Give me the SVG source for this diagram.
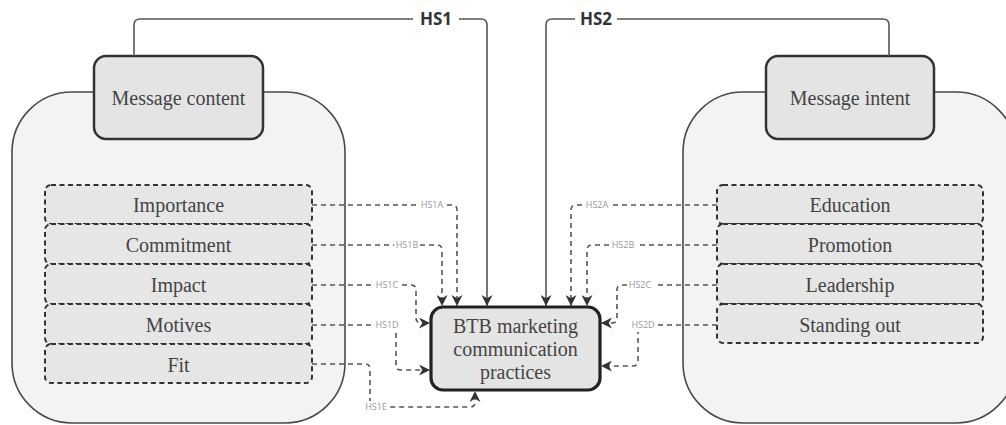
<svg xmlns="http://www.w3.org/2000/svg" width="1006" height="425" viewBox="0 0 1006 425">
<style>
.cont{fill:#f3f3f3;stroke:#4a4a4a;stroke-width:1.6}
.head{fill:#e4e4e4;stroke:#333;stroke-width:2.5}
.item{fill:#e6e6e6;stroke:#333;stroke-width:2;stroke-dasharray:5 3.5}
.main{fill:#e4e4e4;stroke:#222;stroke-width:3.2}
.t{font-family:"Liberation Serif",serif;font-size:20px;fill:#444;text-anchor:middle}
.sol{fill:none;stroke:#555;stroke-width:1.6}
.dash{fill:none;stroke:#555;stroke-width:1.6;stroke-dasharray:5 4}
.lbl{font-family:"Open Sans","Liberation Sans",sans-serif;font-size:9px;fill:#999;text-anchor:middle}
.big{font-family:"Open Sans","Liberation Sans",sans-serif;font-size:17px;font-weight:bold;fill:#333;text-anchor:middle}
.bg{fill:#fff}
</style>
<defs>
<marker id="ah" viewBox="0 0 10 10" refX="10" refY="5" markerWidth="11" markerHeight="11" markerUnits="userSpaceOnUse" orient="auto">
<path d="M0,0 L10,5 L0,10 L3,5 z" fill="#333"/>
</marker>
</defs>
<g id="message-content-group">
<rect class="cont" x="12" y="92" width="333" height="331" rx="60"/>
</g>
<g id="message-intent-group">
<rect class="cont" x="683" y="92" width="333" height="331" rx="60"/>
</g>
<g id="message-content">
<rect class="head" x="94" y="56" width="169" height="83" rx="12"/>
<text class="t" x="178.5" y="105">Message content</text>
</g>
<g id="message-intent">
<rect class="head" x="766" y="56" width="168" height="83" rx="12"/>
<text class="t" x="850" y="105">Message intent</text>
</g>
<g id="importance"><rect class="item" x="45" y="185" width="267" height="39" rx="6"/><text class="t" x="178.5" y="212">Importance</text></g>
<g id="commitment"><rect class="item" x="45" y="224" width="267" height="40" rx="6"/><text class="t" x="178.5" y="252">Commitment</text></g>
<g id="impact"><rect class="item" x="45" y="264" width="267" height="40" rx="6"/><text class="t" x="178.5" y="292">Impact</text></g>
<g id="motives"><rect class="item" x="45" y="304" width="267" height="40" rx="6"/><text class="t" x="178.5" y="332">Motives</text></g>
<g id="fit"><rect class="item" x="45" y="344" width="267" height="39" rx="6"/><text class="t" x="178.5" y="372">Fit</text></g>
<g id="education"><rect class="item" x="717" y="185" width="266" height="39" rx="6"/><text class="t" x="850" y="212">Education</text></g>
<g id="promotion"><rect class="item" x="717" y="224" width="266" height="40" rx="6"/><text class="t" x="850" y="252">Promotion</text></g>
<g id="leadership"><rect class="item" x="717" y="264" width="266" height="40" rx="6"/><text class="t" x="850" y="292">Leadership</text></g>
<g id="standing-out"><rect class="item" x="717" y="304" width="266" height="39" rx="6"/><text class="t" x="850" y="332">Standing out</text></g>
<g id="btb">
<rect class="main" x="431" y="307" width="169" height="83" rx="12"/>
<text class="t" x="515.5" y="333">BTB marketing</text>
<text class="t" x="515.5" y="356">communication</text>
<text class="t" x="515.5" y="379">practices</text>
</g>
<g id="connectors">
<path class="sol" d="M134,56 V25 Q134,19 140,19 H481 Q487,19 487,25 V306" marker-end="url(#ah)"/>
<rect class="bg" x="413" y="8" width="46" height="22"/>
<text class="big" x="436" y="25">HS1</text>
<path class="sol" d="M889,56 V25 Q889,19 883,19 H552 Q546,19 546,25 V306" marker-end="url(#ah)"/>
<rect class="bg" x="575" y="8" width="42" height="22"/>
<text class="big" x="596" y="25">HS2</text>

<path class="dash" d="M312,205 H452 Q457,205 457,210 V306" marker-end="url(#ah)"/>
<rect class="bg" x="419" y="200" width="26" height="10"/>
<text class="lbl" x="432" y="208">HS1A</text>
<path class="dash" d="M312,245 H437 Q442,245 442,250 V306" marker-end="url(#ah)"/>
<rect class="bg" x="394" y="240" width="26" height="10"/>
<text class="lbl" x="407" y="248">HS1B</text>
<path class="dash" d="M312,285 H411 Q416,285 416,290 V318 Q416,323 421,323 H430" marker-end="url(#ah)"/>
<rect class="bg" x="374" y="280" width="26" height="10"/>
<text class="lbl" x="387" y="288">HS1C</text>
<path class="dash" d="M312,325 H391 Q396,325 396,330 V365 Q396,370 401,370 H430" marker-end="url(#ah)"/>
<rect class="bg" x="374" y="319" width="27" height="12"/>
<text class="lbl" x="387" y="328">HS1D</text>
<path class="dash" d="M312,364 H365 Q370,364 370,369 V402 Q370,407 375,407 H470 Q475,407 475,402 V391" marker-end="url(#ah)"/>
<rect class="bg" x="362" y="401" width="27" height="12"/>
<text class="lbl" x="376" y="410">HS1E</text>

<path class="dash" d="M717,205 H576 Q571,205 571,210 V306" marker-end="url(#ah)"/>
<rect class="bg" x="584" y="200" width="27" height="10"/>
<text class="lbl" x="597" y="208">HS2A</text>
<path class="dash" d="M717,245 H592 Q587,245 587,250 V306" marker-end="url(#ah)"/>
<rect class="bg" x="610" y="240" width="27" height="10"/>
<text class="lbl" x="623" y="248">HS2B</text>
<path class="dash" d="M717,285 H622 Q617,285 617,290 V318 Q617,323 612,323 H601" marker-end="url(#ah)"/>
<rect class="bg" x="627" y="280" width="27" height="10"/>
<text class="lbl" x="640" y="288">HS2C</text>
<path class="dash" d="M717,325 H643 Q638,325 638,330 V361 Q638,366 633,366 H601" marker-end="url(#ah)"/>
<rect class="bg" x="629" y="319" width="28" height="13"/>
<text class="lbl" x="643" y="328">HS2D</text>
</g>
</svg>
